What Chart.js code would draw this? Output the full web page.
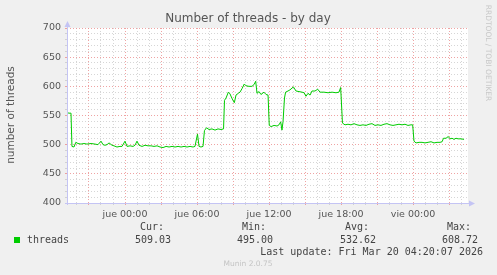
<!DOCTYPE html>
<html>
<head>
<meta charset="utf-8">
<script src="https://cdn.jsdelivr.net/npm/chart.js@4"></script>
<style>
  html, body { margin: 0; padding: 0; background: #f0f0f0; }
  #c { display: block; }
</style>
</head>
<body>
<canvas id="c" width="497" height="275"></canvas>
<script>
// Hours relative to "jue 00:00"
const hours = [-4.83,-4.67,-4.5,-4.42,-4.25,-4.1,-3.92,-3.67,-3.42,-3.17,-2.83,-2.5,-2.25,-2.0,-1.83,-1.67,-1.5,-1.33,-1.08,-0.92,-0.67,-0.42,-0.25,
  0,0.17,0.42,0.67,0.83,1.0,1.17,1.42,1.67,1.92,2.17,2.42,2.67,2.92,3.17,3.42,3.67,3.92,4.17,4.42,4.67,4.92,5.17,5.42,5.67,5.83,
  6.04,6.17,6.33,6.5,6.62,6.79,7.0,7.25,7.5,7.75,8.0,8.21,8.29,8.42,8.61,8.75,8.92,9.11,9.25,9.44,9.58,9.75,9.94,10.08,10.33,10.58,10.75,10.89,
  11.0,11.17,11.33,11.58,11.75,11.92,12.02,12.17,12.42,12.67,12.83,12.97,13.08,13.17,13.29,13.38,13.58,13.75,14.03,14.25,14.5,14.75,14.92,
  15.08,15.25,15.42,15.58,15.83,16.06,16.25,16.58,16.92,17.25,17.58,17.83,17.97,18.12,18.33,18.58,18.83,19.08,19.33,19.58,19.83,20.08,
  20.33,20.58,20.83,21.08,21.33,21.58,21.83,22.08,22.33,22.58,22.83,23.08,23.33,23.58,23.83,23.97,24.08,24.25,24.5,24.75,25.0,25.25,
  25.5,25.75,26.0,26.25,26.42,26.54,26.75,26.94,27.08,27.25,27.42,27.58,27.75,28.0,28.25];
const threads = [555,554,554,497,496,504,502,501,502,501,502,501,500,506,500,499,500,503,499,498,496,497,497,
  506,497,498,497,499,506,499,497,499,498,498,497,498,496,495,497,496,497,496,497,496,497,496,497,496,497,
  518,497,496,497,524,529,526,527,525,527,526,527,576,580,590,587,579,572,585,588,590,596,604,601,600,600,603,608.7,
  588,591,586,590,586,585,533,531,533,532,534,539,525,540,580,590,592,594,599,592,591,590,589,
  583,588,585,592,592,595,590,590,589,590,589,590,598,537,534,535,534,536,534,533,534,533,
  535,536,533,534,533,535,536,534,533,534,535,534,535,533,534,534,506,503,504,504,503,504,
  505,503,504,504,505,511,511,514,510,511,509,511,510,510,509.03];

const xTickHours = [0, 6, 12, 18, 24];
const xTickLabels = ['jue 00:00', 'jue 06:00', 'jue 12:00', 'jue 18:00', 'vie 00:00'];
const yTicks = [400, 450, 500, 550, 600, 650, 700];

const seriesName = 'threads';
const statLabels = ['Cur:', 'Min:', 'Avg:', 'Max:'];
const statValues = ['509.03', '495.00', '532.62', '608.72'];

const title = 'Number of threads - by day';
const yTitle = 'number of threads';
const lastUpdate = 'Last update: Fri Mar 20 04:20:07 2026';
const footer = 'Munin 2.0.75';
const sideText = 'RRDTOOL / TOBI OETIKER';

const points = hours.map((h, i) => ({ x: h, y: threads[i] }));

const SANS = '"DejaVu Sans", sans-serif';
const MONO = '"DejaVu Sans Mono", monospace';
const MAJOR = 'rgba(235,140,140,0.8)';
const MINOR = 'rgba(200,200,200,0.75)';
const AXIS = '#c4c4f4';

const decor = {
  id: 'decor',
  beforeDraw(chart) {
    const { ctx, chartArea: a } = chart;
    ctx.save();
    ctx.fillStyle = '#f0f0f0';
    ctx.fillRect(0, 0, chart.width, chart.height);
    ctx.fillStyle = '#ffffff';
    ctx.fillRect(a.left, a.top, a.right - a.left, a.bottom - a.top);
    ctx.restore();
  },
  afterDraw(chart) {
    const { ctx, chartArea: a } = chart;
    ctx.save();
    // axis lines
    ctx.strokeStyle = AXIS;
    ctx.lineWidth = 1;
    ctx.beginPath();
    ctx.moveTo(a.left + 0.5, a.bottom + 2);
    ctx.lineTo(a.left + 0.5, a.top - 2);
    ctx.moveTo(a.left - 2, Math.round(a.bottom) + 0.5);
    ctx.lineTo(a.right + 2, Math.round(a.bottom) + 0.5);
    ctx.stroke();
    // arrows
    ctx.fillStyle = AXIS;
    ctx.beginPath();
    ctx.moveTo(a.left - 2.5, a.top - 1); ctx.lineTo(a.left + 3.5, a.top - 1); ctx.lineTo(a.left + 0.5, a.top - 7); ctx.closePath(); ctx.fill();
    ctx.beginPath();
    ctx.moveTo(a.right + 1, a.bottom - 2.5); ctx.lineTo(a.right + 1, a.bottom + 3.5); ctx.lineTo(a.right + 7, a.bottom + 0.5); ctx.closePath(); ctx.fill();

    // title
    ctx.fillStyle = '#555555';
    ctx.font = '12px ' + SANS;
    ctx.textAlign = 'center';
    ctx.textBaseline = 'middle';
    ctx.fillText(title, 248, 19);

    // y title
    ctx.save();
    ctx.translate(11, 115);
    ctx.rotate(-Math.PI / 2);
    ctx.font = '10.5px ' + SANS;
    ctx.fillStyle = '#555555';
    ctx.fillText(yTitle, 0, 0);
    ctx.restore();

    // side text
    ctx.save();
    ctx.translate(488, 53);
    ctx.rotate(Math.PI / 2);
    ctx.font = '7.5px ' + SANS;
    ctx.fillStyle = '#c8c8c8';
    ctx.fillText(sideText, 0, 0);
    ctx.restore();

    // legend
    ctx.fillStyle = '#00cc00';
    ctx.fillRect(14, 237, 6, 6);
    ctx.font = '10px ' + MONO;
    ctx.fillStyle = '#444444';
    ctx.textAlign = 'left';
    ctx.fillText(seriesName, 27, 240);
    const cols = [152, 254, 357, 459];
    ctx.textAlign = 'center';
    statLabels.forEach((s, i) => ctx.fillText(s, cols[i], 227));
    statValues.forEach((s, i) => ctx.fillText(s, cols[i] + 1, 240));
    ctx.textAlign = 'right';
    ctx.fillText(lastUpdate, 483, 252);

    ctx.textAlign = 'center';
    ctx.font = '7.5px ' + SANS;
    ctx.fillStyle = '#c4c4c4';
    ctx.fillText(footer, 248, 264);
    ctx.restore();
  }
};

const hourTicks = [];
for (let h = -4; h <= 28; h++) hourTicks.push(h);
const tenTicks = [];
for (let v = 400; v <= 700; v += 10) tenTicks.push(v);

new Chart(document.getElementById('c'), {
  type: 'line',
  data: {
    datasets: [{
      label: seriesName,
      data: points,
      borderColor: '#00cc00',
      borderWidth: 1,
      pointRadius: 0,
      tension: 0,
      fill: false
    }]
  },
  options: {
    responsive: false,
    animation: false,
    events: [],
    layout: { padding: { left: 0, top: 28, right: 29, bottom: 52 } },
    plugins: { legend: { display: false }, tooltip: { enabled: false }, title: { display: false } },
    scales: {
      x: {
        type: 'linear',
        min: -4.833,
        max: 28.58,
        afterFit(s) { s.height = 20; },
        afterBuildTicks(s) { s.ticks = hourTicks.map(v => ({ value: v })); },
        ticks: {
          autoSkip: false,
          maxRotation: 0,
          padding: 4,
          font: { family: 'DejaVu Sans', size: 9.5 },
          color: '#555555',
          callback(v) {
            const i = xTickHours.indexOf(v);
            return i >= 0 ? xTickLabels[i] : '';
          }
        },
        grid: {
          color: c => (c.tick && c.tick.value % 3 === 0) ? MAJOR : MINOR,
          tickColor: c => (c.tick && c.tick.value % 3 === 0) ? MAJOR : MINOR,
          tickLength: 2,
          lineWidth: 1
        },
        border: { display: false, dash: [1, 2] }
      },
      y: {
        type: 'linear',
        min: 400,
        max: 700,
        afterFit(s) { s.width = 67; },
        afterBuildTicks(s) { s.ticks = tenTicks.map(v => ({ value: v })); },
        ticks: {
          autoSkip: false,
          padding: 4,
          font: { family: 'DejaVu Sans', size: 9.5 },
          color: '#555555',
          callback(v) { return yTicks.includes(v) ? String(v) : ''; }
        },
        grid: {
          color: c => (c.tick && c.tick.value % 50 === 0) ? MAJOR : MINOR,
          tickColor: c => (c.tick && c.tick.value % 50 === 0) ? MAJOR : MINOR,
          tickLength: 2,
          lineWidth: 1
        },
        border: { display: false, dash: [1, 2] }
      }
    }
  },
  plugins: [decor]
});
</script>
</body>
</html>
